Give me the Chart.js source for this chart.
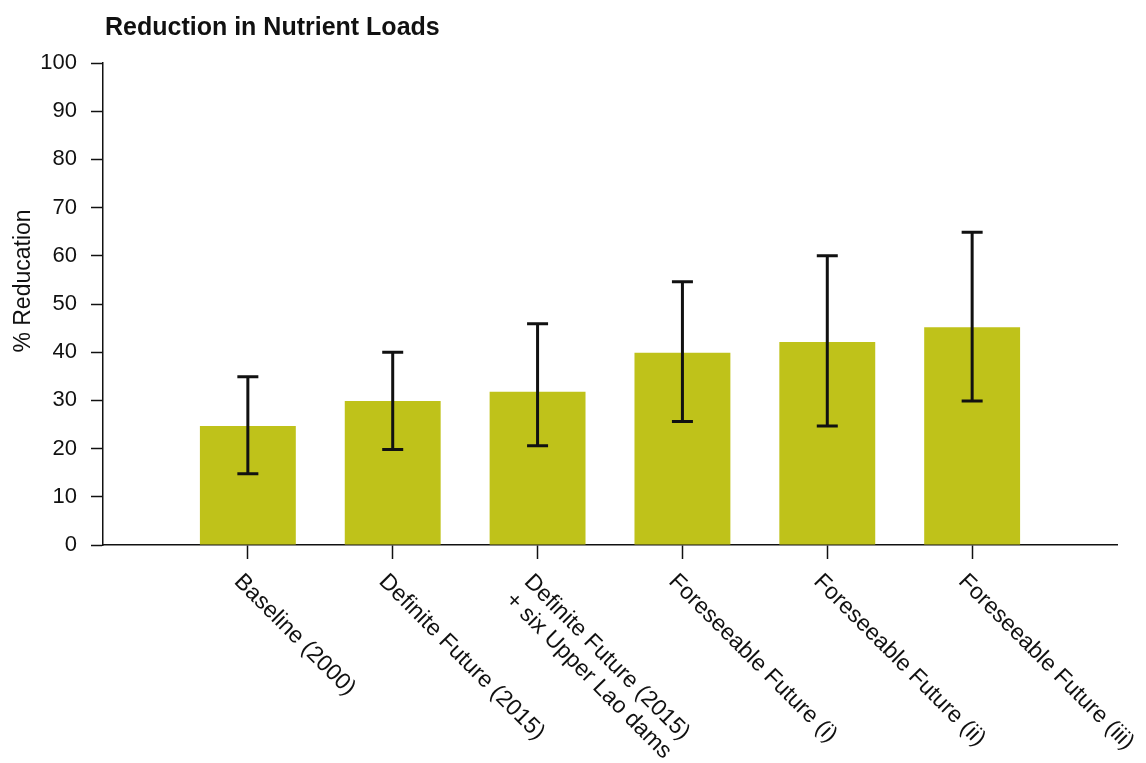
<!DOCTYPE html>
<html>
<head>
<meta charset="utf-8">
<title>Reduction in Nutrient Loads</title>
<script src="https://cdn.jsdelivr.net/npm/chart.js@4.4.1/dist/chart.umd.min.js"></script>
<style>
  html, body { margin: 0; padding: 0; background: #fff; }
  #wrap { width: 1146px; height: 763px; }
</style>
</head>
<body>
<div id="wrap"><canvas id="chart" width="1146" height="763"></canvas></div>
<script>
(function () {
  'use strict';

  var TITLE = 'Reduction in Nutrient Loads';
  var Y_LABEL = '% Reducation';
  var SCENARIOS = [
    ['Baseline (2000)'],
    ['Definite Future (2015)'],
    ['Definite Future (2015)', '+ six Upper Lao dams'],
    ['Foreseeable Future (i)'],
    ['Foreseeable Future (ii)'],
    ['Foreseeable Future (iii)']
  ];
  var REDUCTION = [24.7, 29.9, 31.8, 39.9, 42.1, 45.2];
  var ERR_LOW = [14.8, 19.8, 20.6, 25.6, 24.7, 29.9];
  var ERR_HIGH = [34.9, 40.0, 45.9, 54.6, 60.0, 64.9];
  var Y_TICKS = [0, 10, 20, 30, 40, 50, 60, 70, 80, 90, 100];

  var FONT = '"Liberation Sans", Arial, Helvetica, sans-serif';
  var BAR_COLOR = '#bfc21a';

  // blank slot at each end so bars sit at 1..6 of 0..7
  var labels = [''].concat(SCENARIOS.map(function (s) { return s.join(' '); }), ['']);
  var values = [null].concat(REDUCTION, [null]);

  var errorBarPlugin = {
    id: 'errorBars',
    afterDatasetsDraw: function (chart) {
      var ctx = chart.ctx;
      var x = chart.scales.x, y = chart.scales.y;
      ctx.save();
      ctx.strokeStyle = '#111';
      ctx.lineWidth = 3;
      ctx.lineCap = 'butt';
      REDUCTION.forEach(function (v, i) {
        var px = x.getPixelForValue(i + 1);
        var lo = y.getPixelForValue(ERR_LOW[i]);
        var hi = y.getPixelForValue(ERR_HIGH[i]);
        ctx.beginPath();
        ctx.moveTo(px, lo); ctx.lineTo(px, hi);
        ctx.moveTo(px - 10.5, lo); ctx.lineTo(px + 10.5, lo);
        ctx.moveTo(px - 10.5, hi); ctx.lineTo(px + 10.5, hi);
        ctx.stroke();
      });
      ctx.restore();
    }
  };

  var textPlugin = {
    id: 'extraText',
    afterDraw: function (chart) {
      var ctx = chart.ctx;
      var x = chart.scales.x, y = chart.scales.y;
      ctx.save();
      ctx.fillStyle = '#111';

      // title
      ctx.font = 'bold 25px ' + FONT;
      ctx.textAlign = 'left';
      ctx.textBaseline = 'alphabetic';
      ctx.fillText(TITLE, 105, 35);

      // y axis label
      ctx.save();
      ctx.translate(30, 281);
      ctx.rotate(-Math.PI / 2);
      ctx.font = '23px ' + FONT;
      ctx.textAlign = 'center';
      ctx.textBaseline = 'alphabetic';
      ctx.fillText(Y_LABEL, 0, 0);
      ctx.restore();

      // rotated category labels, 45deg clockwise starting at the tick
      ctx.font = '23px ' + FONT;
      ctx.textBaseline = 'top';
      ctx.textAlign = 'left';
      SCENARIOS.forEach(function (lines, i) {
        var px = x.getPixelForValue(i + 1);
        var widths = lines.map(function (l) { return ctx.measureText(l).width; });
        var maxW = Math.max.apply(null, widths);
        ctx.save();
        ctx.translate(px - 2, y.bottom + 25);
        ctx.rotate(Math.PI / 4);
        lines.forEach(function (l, j) {
          ctx.fillText(l, (maxW - widths[j]) / 2, j * 26);
        });
        ctx.restore();
      });
      ctx.restore();
    }
  };

  new Chart(document.getElementById('chart'), {
    type: 'bar',
    data: {
      labels: labels,
      datasets: [{
        data: values,
        backgroundColor: BAR_COLOR,
        borderWidth: 0,
        categoryPercentage: 1,
        barPercentage: 0.662
      }]
    },
    options: {
      responsive: false,
      animation: false,
      layout: { padding: { top: 63, right: 29, left: 0, bottom: 0 } },
      plugins: {
        legend: { display: false },
        tooltip: { enabled: false }
      },
      scales: {
        x: {
          offset: false,
          border: { display: true, color: '#111', width: 1.5 },
          grid: {
            offset: false,
            drawOnChartArea: false,
            drawTicks: true,
            tickLength: 14,
            tickWidth: 1.5,
            tickColor: function (c) {
              return (c.index >= 1 && c.index <= SCENARIOS.length) ? '#111' : 'rgba(0,0,0,0)';
            }
          },
          ticks: { display: false },
          afterFit: function (scale) { scale.height = 763 - 545; }
        },
        y: {
          min: 0,
          max: 100,
          afterBuildTicks: function (scale) {
            scale.ticks = Y_TICKS.map(function (v) { return { value: v }; });
          },
          border: { display: true, color: '#111', width: 1.5 },
          grid: {
            drawOnChartArea: false,
            drawTicks: true,
            tickLength: 12,
            tickWidth: 1.5,
            tickColor: '#111'
          },
          ticks: {
            color: '#111',
            padding: 14,
            font: { family: FONT, size: 22 }
          },
          afterFit: function (scale) { scale.width = 103; }
        }
      }
    },
    plugins: [errorBarPlugin, textPlugin]
  });
})();
</script>
</body>
</html>
